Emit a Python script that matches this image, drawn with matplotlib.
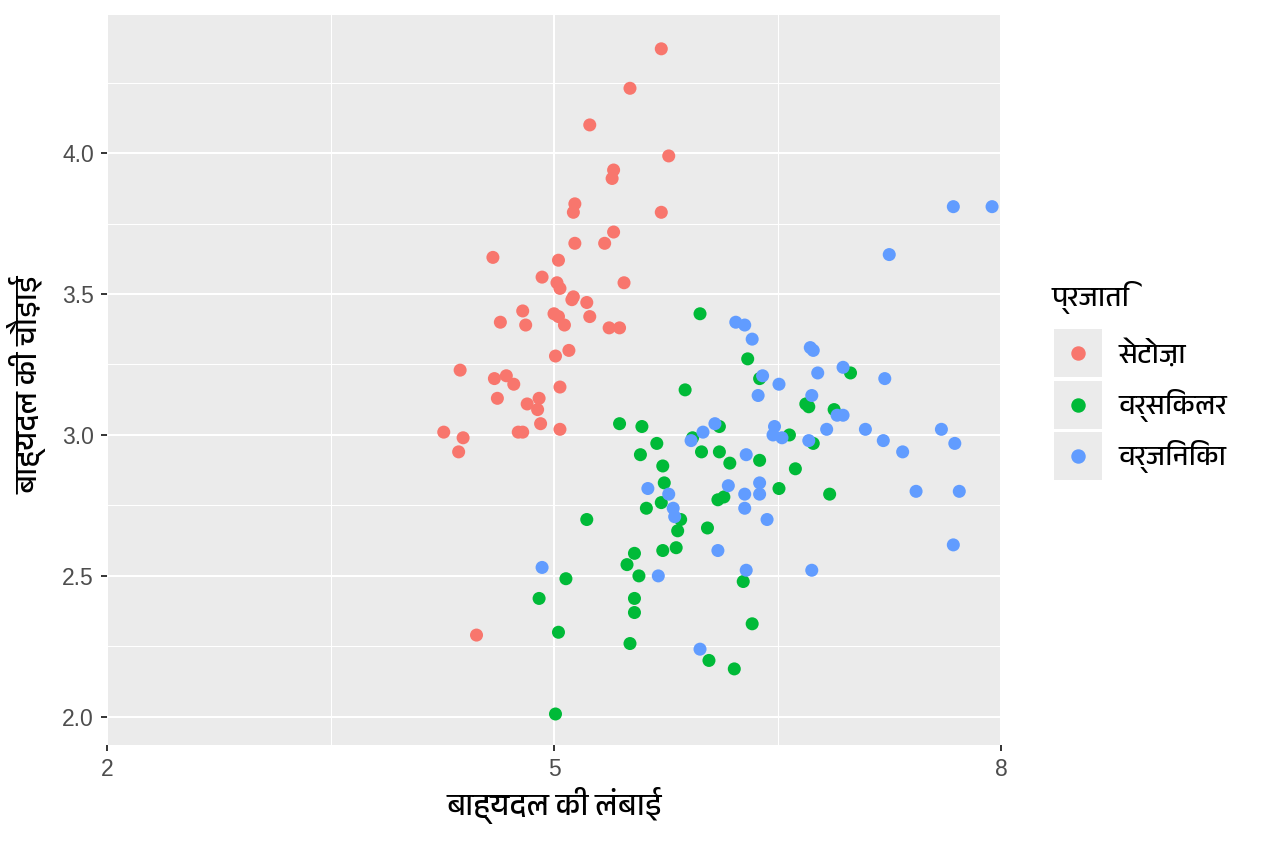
import matplotlib
matplotlib.use("Agg")
import matplotlib.pyplot as plt
from matplotlib import font_manager
from matplotlib.lines import Line2D
from matplotlib.patches import Rectangle
from matplotlib.ticker import FixedLocator
from fontTools.ttLib import TTFont

# iris (jittered) sepal length / width
setosa_x = [5.72, 5.51, 5.24, 5.77, 5.40, 5.39, 5.14, 5.13, 5.72, 5.40,
            5.34, 5.14, 4.59, 5.03, 4.92, 5.02, 5.04, 5.47, 5.13, 5.12,
            5.22, 4.79, 4.64, 4.81, 5.00, 5.03, 5.07, 5.24, 5.37, 5.44,
            5.01, 5.10, 4.37, 4.60, 4.68, 4.73, 5.04, 4.62, 4.82, 4.90,
            4.89, 4.91, 5.04, 4.76, 4.79, 4.26, 4.39, 4.36, 4.48]
setosa_y = [4.37, 4.23, 4.10, 3.99, 3.94, 3.91, 3.82, 3.79, 3.79, 3.72,
            3.68, 3.68, 3.63, 3.62, 3.56, 3.54, 3.52, 3.54, 3.49, 3.48,
            3.47, 3.44, 3.40, 3.39, 3.43, 3.42, 3.39, 3.42, 3.38, 3.38,
            3.28, 3.30, 3.23, 3.20, 3.21, 3.18, 3.17, 3.13, 3.11, 3.13,
            3.09, 3.04, 3.02, 3.01, 3.01, 3.01, 2.99, 2.94, 2.29]

versicolor_x = [5.98, 6.30, 6.99, 5.88, 6.38, 6.69, 6.71, 6.88, 5.59, 5.44,
                6.11, 5.93, 5.69, 6.58, 6.74, 5.58, 5.99, 6.11, 6.18, 6.38,
                5.73, 6.62, 5.74, 6.51, 6.85, 5.72, 5.62, 5.85, 5.83, 5.73,
                5.82, 5.54, 5.49, 5.57, 5.54, 5.54, 5.51, 6.04, 6.21, 6.10,
                6.14, 6.03, 6.27, 6.33, 5.22, 5.08, 4.90, 5.03, 5.01]
versicolor_y = [3.43, 3.27, 3.22, 3.16, 3.20, 3.11, 3.10, 3.09, 3.03, 3.04,
                3.03, 2.99, 2.97, 3.00, 2.97, 2.93, 2.94, 2.94, 2.90, 2.91,
                2.89, 2.88, 2.83, 2.81, 2.79, 2.76, 2.74, 2.70, 2.66, 2.59,
                2.60, 2.58, 2.54, 2.50, 2.42, 2.37, 2.26, 2.20, 2.17, 2.77,
                2.78, 2.67, 2.48, 2.33, 2.70, 2.49, 2.42, 2.30, 2.01]

virginica_x = [7.68, 7.94, 7.25, 6.22, 6.28, 6.33, 6.72, 6.74, 6.77, 6.94,
               7.22, 6.40, 6.51, 6.37, 6.73, 6.90, 6.94, 6.83, 7.09, 7.60,
               6.48, 6.47, 6.53, 6.71, 7.21, 7.69, 7.34, 6.08, 6.00, 5.92,
               6.29, 7.43, 7.72, 6.17, 6.38, 6.28, 6.38, 6.28, 6.43, 5.63,
               5.77, 5.80, 5.81, 6.10, 5.70, 6.29, 6.73, 7.68, 5.98, 4.92]
virginica_y = [3.81, 3.81, 3.64, 3.40, 3.39, 3.34, 3.31, 3.30, 3.22, 3.24,
               3.20, 3.21, 3.18, 3.14, 3.14, 3.07, 3.07, 3.02, 3.02, 3.02,
               3.03, 3.00, 2.99, 2.98, 2.98, 2.97, 2.94, 3.04, 3.01, 2.98,
               2.93, 2.80, 2.80, 2.82, 2.83, 2.79, 2.79, 2.74, 2.70, 2.81,
               2.79, 2.74, 2.71, 2.59, 2.50, 2.52, 2.52, 2.61, 2.24, 2.53]

species = ["सेटोज़ा", "वर्सिकलर", "वर्जिनिका"]
colors = ["#F8766D", "#00BA38", "#619CFF"]
x_ticks = [2, 5, 8]
x_minor = [3.5, 6.5]
y_ticks = [2.0, 2.5, 3.0, 3.5, 4.0]
y_minor = [2.25, 2.75, 3.25, 3.75, 4.25]
x_label = "बाह्यदल की लंबाई"
y_label = "बाह्यदल की चौड़ाई"
legend_title = "प्रजाति"


def find_deva_font():
    found = []
    for f in font_manager.fontManager.ttflist:
        try:
            tt = TTFont(f.fname, fontNumber=0, lazy=True)
            cmap = tt.getBestCmap()
        except Exception:
            continue
        if cmap and 0x0915 in cmap and 0x093F in cmap:
            found.append(f.name)
    found.sort(key=lambda n: (("Devanagari" not in n), n))
    return found[0] if found else None


deva = find_deva_font()
hindi_fam = [deva, "DejaVu Sans"] if deva else ["DejaVu Sans"]
num_fam = ["Liberation Sans", "DejaVu Sans"]

W, H = 1264, 843
fig = plt.figure(figsize=(W / 100, H / 100), dpi=100)
fig.patch.set_facecolor("white")


def fx(px):
    return px / W


def fy(py):
    return 1 - py / H


ax = fig.add_axes([fx(107), fy(745), fx(1001) - fx(107), fy(15) - fy(745)])
ax.set_facecolor("#EBEBEB")
for s in ax.spines.values():
    s.set_visible(False)

data = [(setosa_x, setosa_y), (versicolor_x, versicolor_y), (virginica_x, virginica_y)]
for (xs, ys), c in zip(data, colors):
    ax.scatter(xs, ys, s=88, color=c, edgecolors="none", zorder=3)

ax.set_xlim(2, 8)
ax.set_ylim(1.9, 4.49)
ax.set_xticks(x_ticks)
ax.set_yticks(y_ticks)
ax.set_xticklabels([str(t) for t in x_ticks], family=num_fam, fontsize=16.5, color="#4D4D4D")
ax.set_yticklabels(["%.1f" % t for t in y_ticks], family=num_fam, fontsize=16.5, color="#4D4D4D")
ax.xaxis.set_minor_locator(FixedLocator(x_minor))
ax.yaxis.set_minor_locator(FixedLocator(y_minor))
ax.grid(which="major", color="white", linewidth=1.5, zorder=0)
ax.grid(which="minor", color="white", linewidth=0.75, zorder=0)
ax.set_axisbelow(True)
ax.tick_params(which="major", length=4.5, width=1.4, color="#333333", pad=5)
ax.tick_params(which="minor", length=0)

fig.text(fx(554), fy(806), x_label, family=hindi_fam, fontsize=22,
         ha="center", va="center")
fig.text(fx(27), fy(385), y_label, family=hindi_fam, fontsize=22,
         ha="center", va="center", rotation=90)

# legend
fig.text(fx(1052), fy(297), legend_title, family=hindi_fam, fontsize=20,
         ha="left", va="center")
key_tops = [329, 381, 432]
for top, c, name in zip(key_tops, colors, species):
    fig.patches.append(Rectangle((fx(1054), fy(top + 48)), fx(48), 48 / H,
                                 transform=fig.transFigure, facecolor="#EBEBEB",
                                 edgecolor="none"))
    fig.lines.append(Line2D([fx(1078)], [fy(top + 24)], transform=fig.transFigure,
                            marker="o", markersize=9.4, color=c, linestyle="none"))
    fig.text(fx(1119), fy(top + 24), name, family=hindi_fam, fontsize=20,
             ha="left", va="center")

fig.savefig("out.png", dpi=100)
